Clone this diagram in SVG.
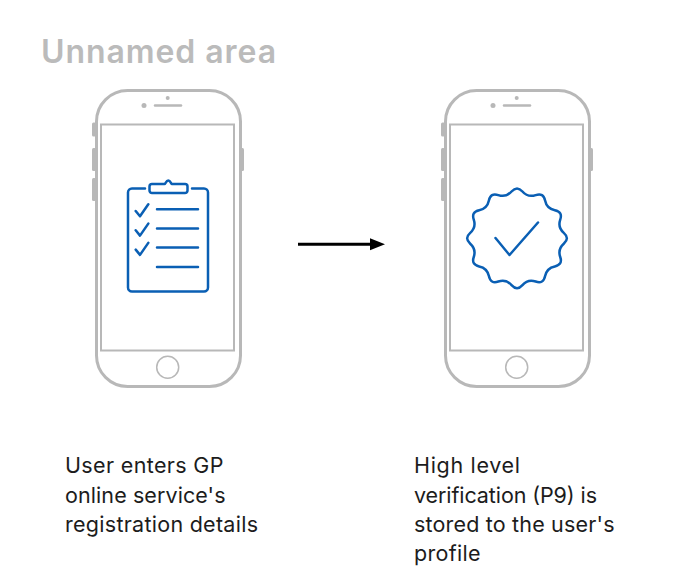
<svg xmlns="http://www.w3.org/2000/svg" width="692" height="587" viewBox="0 0 692 587">
<style>
.g{fill:none;stroke:#b8b8b8}
.gf{fill:#b8b8b8}
.b{fill:none;stroke:#0a5fb4;stroke-width:2.500;stroke-linecap:round;stroke-linejoin:round}
.t{font-family:"Inter","Open Sans",sans-serif;font-size:21.500px;fill:#1c1c1c}
.h{font-family:"Inter","Open Sans",sans-serif;font-size:32px;font-weight:600;fill:#bbb}
</style>
<defs>
<g id="phone">
<rect class="gf" x="92" y="122.500" width="4" height="14" rx="1.500"/>
<rect class="gf" x="92" y="148" width="4" height="23" rx="1.500"/>
<rect class="gf" x="92" y="178" width="4" height="23" rx="1.500"/>
<rect class="gf" x="240" y="148" width="4" height="23" rx="1.500"/>
<rect class="g" x="96.500" y="90.500" width="144" height="296" rx="31" ry="31" stroke-width="3" style="fill:#fff"/>
<rect class="g" x="101" y="124.500" width="133" height="226" stroke-width="2"/>
<path class="g" d="M155 105.500H181" stroke-width="2.500" stroke-linecap="round"/>
<circle class="gf" cx="144" cy="105.500" r="2.500"/>
<circle class="gf" cx="167.700" cy="98" r="2"/>
<circle class="g" cx="167.700" cy="367.300" r="11" stroke-width="1.500"/>
</g>
</defs>
<text id="title" class="h" x="41" y="62.500" textLength="235" lengthAdjust="spacing">Unnamed area</text>
<g id="phone-1">
<use href="#phone"/>
<path class="b" d="M145 188.500H132a4 4 0 0 0-4 4V287.500a4 4 0 0 0 4 4H204a4 4 0 0 0 4-4V192.500a4 4 0 0 0-4-4H192"/>
<path class="b" d="M152 184H164.500C165.500 184 166 180.500 168.300 180.500C170.600 180.500 171 184 172 184H185a2.500 2.500 0 0 1 2.500 2.500V190.500a2.500 2.500 0 0 1-2.500 2.500H152a2.500 2.500 0 0 1-2.500-2.500V186.500a2.500 2.500 0 0 1 2.500-2.500Z"/>
<path class="b" d="M157 209.300H198M157 228.400H198M157 247.600H198M157 267H198"/>
<path class="b" d="M135.700 211L140 216.300L148.300 204.300M135.700 230.300L140 235.600L148.300 223.600M135.700 249.600L140 254.900L148.300 242.900"/>
</g>
<g id="phone-2">
<use href="#phone" x="349"/>
<path transform="translate(517 238.300)" class="b" d="M46.780-5.440Q53 0 46.780 5.440T43.240 18.680T37.800 28.100T28.100 37.800T18.680 43.240T5.440 46.780T-5.440 46.780T-18.680 43.240T-28.100 37.800T-37.800 28.100T-43.240 18.680T-46.780 5.440T-46.780-5.440T-43.240-18.680T-37.800-28.100T-28.100-37.800T-18.680-43.240T-5.440-46.780T5.440-46.780T18.680-43.240T28.100-37.800T37.800-28.100T43.240-18.680T46.780-5.440Z"/>
<path class="b" d="M495.500 238L509.500 255L538 222.500"/>
</g>
<g id="connectors">
<path d="M298 244.300H372" fill="none" stroke="#000" stroke-width="3"/>
<path d="M370 238.300L385 244.300L370 250.300Z" fill="#000"/>
</g>
<g id="label-1">
<text class="t" x="65" y="473" textLength="158.500" lengthAdjust="spacing">User enters GP</text>
<text class="t" x="65" y="502.500" textLength="160.500" lengthAdjust="spacing">online service's</text>
<text class="t" x="65" y="532" textLength="193" lengthAdjust="spacing">registration details</text>
</g>
<g id="label-2">
<text class="t" x="414" y="473" textLength="106" lengthAdjust="spacing">High level</text>
<text class="t" x="414" y="502.500" textLength="183" lengthAdjust="spacing">verification (P9) is</text>
<text class="t" x="414" y="532" textLength="200.500" lengthAdjust="spacing">stored to the user's</text>
<text class="t" x="414" y="561" textLength="66.500" lengthAdjust="spacing">profile</text>
</g>
</svg>
